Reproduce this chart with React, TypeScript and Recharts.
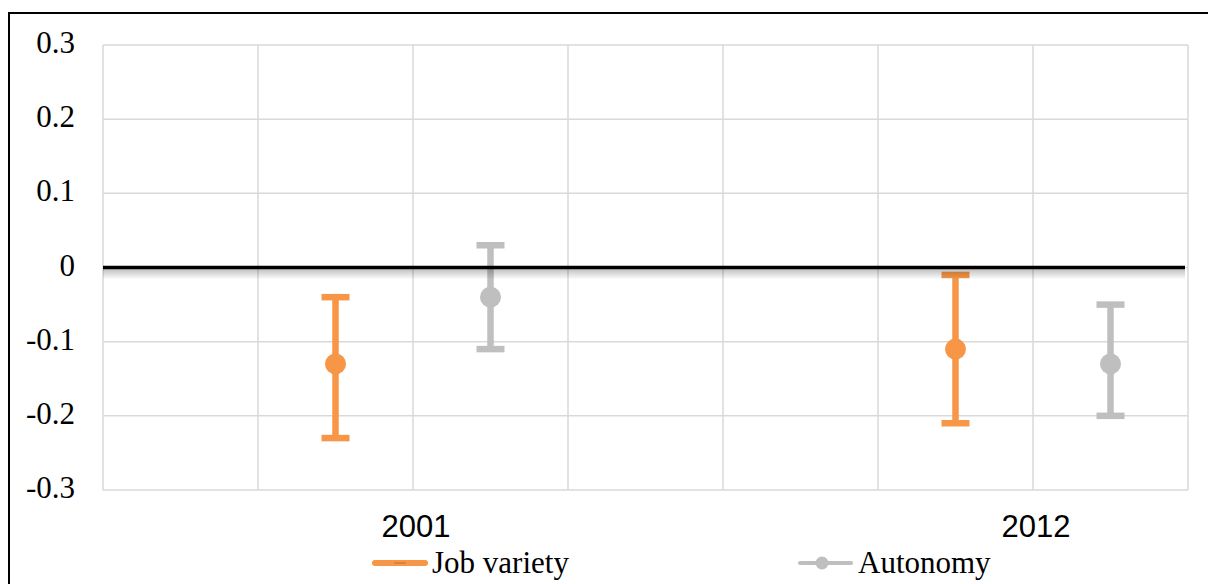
import React from 'react';
import {
  ComposedChart,
  Scatter,
  ErrorBar,
  XAxis,
  YAxis,
  CartesianGrid,
  ReferenceLine,
  Legend,
} from 'recharts';

// ---- data ----
const categories = ['2001', '2012'];
const categorySlots = [2, 6]; // slot positions of the category labels on the x scale
const gridSlots = [0, 1, 2, 3, 4, 5, 6, 7];
const jobVarietySlots = [1.5, 5.5];
const autonomySlots = [2.5, 6.5];

const jobVarietyValues = [-0.13, -0.11];
const jobVarietyLow = [-0.23, -0.21];
const jobVarietyHigh = [-0.04, -0.01];

const autonomyValues = [-0.04, -0.13];
const autonomyLow = [-0.11, -0.2];
const autonomyHigh = [0.03, -0.05];

const yTicks = [-0.3, -0.2, -0.1, 0, 0.1, 0.2, 0.3];
const seriesNames = ['Job variety', 'Autonomy'];

// ---- styles ----
const ORANGE = '#F79646';
const GRAY = '#BFBFBF';
const GRID = '#D9D9D9';
const SERIF = '"Liberation Serif", "Times New Roman", serif';
const SANS = '"Liberation Sans", Arial, sans-serif';
const FS = 31;

const build = (xs: number[], vals: number[], lo: number[], hi: number[]) =>
  vals.map((v, i) => ({ x: xs[i], y: v, err: [v - lo[i], hi[i] - v] }));

const jobData = build(jobVarietySlots, jobVarietyValues, jobVarietyLow, jobVarietyHigh);
const autoData = build(autonomySlots, autonomyValues, autonomyLow, autonomyHigh);

const fmtY = (v: number) => (Math.abs(v) < 1e-9 ? '0' : v.toFixed(1));
const fmtX = (v: number) => {
  const i = categorySlots.indexOf(v);
  return i >= 0 ? categories[i] : '';
};

const YTick = (props: any) => {
  const { x, y, payload } = props;
  return (
    <text x={x} y={y + 8} textAnchor="end" fontFamily={SERIF} fontSize={FS} fill="#000">
      {fmtY(payload.value)}
    </text>
  );
};

const XTick = (props: any) => {
  const { x, y, payload } = props;
  return (
    <text x={x + 3} y={y + 47} textAnchor="middle" fontFamily={SANS} fontSize={FS} fill="#000">
      {fmtX(payload.value)}
    </text>
  );
};

const ZeroLine = (props: any) => {
  const { x1, y1, x2 } = props;
  return (
    <g>
      <defs>
        <linearGradient id="zeroShadow" x1="0" y1="0" x2="0" y2="1">
          <stop offset="0%" stopColor="#000" stopOpacity={0.28} />
          <stop offset="100%" stopColor="#000" stopOpacity={0} />
        </linearGradient>
      </defs>
      <rect x={x1} y={y1} width={x2 - 3 - x1} height={12} fill="url(#zeroShadow)" />
      <line x1={x1} y1={y1} x2={x2 - 3} y2={y1} stroke="#000" strokeWidth={3.5} />
    </g>
  );
};

const Dot = (color: string) => (props: any) => {
  const { cx, cy } = props;
  return <circle cx={cx} cy={cy} r={10.5} fill={color} />;
};

const renderLegend = () => (
  <div style={{ position: 'relative', width: 1200, height: 30 }}>
    <div
      style={{
        position: 'absolute',
        left: 364,
        top: 0,
        height: 30,
        display: 'flex',
        alignItems: 'center',
      }}
    >
      <svg width={56} height={12} style={{ display: 'block' }}>
        <line x1={3} y1={6} x2={53} y2={6} stroke={ORANGE} strokeWidth={6} strokeLinecap="round" />
        <line x1={22} y1={6} x2={34} y2={6} stroke="#E07F3A" strokeWidth={2} />
      </svg>
      <span style={{ marginLeft: 4, fontFamily: SERIF, fontSize: FS, color: '#000', whiteSpace: 'nowrap' }}>
        {seriesNames[0]}
      </span>
    </div>
    <div
      style={{
        position: 'absolute',
        left: 790,
        top: 0,
        height: 30,
        display: 'flex',
        alignItems: 'center',
      }}
    >
      <svg width={55} height={14} style={{ display: 'block' }}>
        <line x1={2} y1={7} x2={53} y2={7} stroke={GRAY} strokeWidth={4} strokeLinecap="round" />
        <circle cx={24} cy={7} r={6.5} fill={GRAY} />
      </svg>
      <span style={{ marginLeft: 5, fontFamily: SERIF, fontSize: FS, color: '#000', whiteSpace: 'nowrap' }}>
        {seriesNames[1]}
      </span>
    </div>
  </div>
);

export default function App() {
  return (
    <div style={{ position: 'relative', width: 1200, height: 576 }}>
      <style>{'html,body{overflow:hidden;}'}</style>
      <div
        style={{
          position: 'absolute',
          left: 0,
          top: 4,
          width: 1208,
          height: 572,
          boxSizing: 'border-box',
          borderTop: '2px solid #000',
          borderLeft: '2px solid #000',
        }}
      />
      <div style={{ position: 'absolute', left: 0, top: 0 }}>
        <ComposedChart
          width={1200}
          height={576}
          margin={{ top: 37, right: 20, bottom: 14, left: 15 }}
        >
          <CartesianGrid
            stroke={GRID}
            strokeWidth={1.5}
            verticalValues={gridSlots}
            horizontalValues={yTicks}
          />
          <XAxis
            type="number"
            dataKey="x"
            domain={[0, 7]}
            ticks={categorySlots}
            interval={0}
            axisLine={false}
            tickLine={false}
            tickSize={0}
            tickMargin={0}
            height={50}
            tick={<XTick />}
          />
          <YAxis
            type="number"
            dataKey="y"
            domain={[-0.3, 0.3]}
            ticks={yTicks}
            interval={0}
            allowDataOverflow
            axisLine={false}
            tickLine={false}
            tickSize={0}
            tickMargin={28}
            width={80}
            tick={<YTick />}
          />
          <Scatter
            name={seriesNames[0]}
            data={jobData}
            fill={ORANGE}
            shape={Dot(ORANGE)}
            isAnimationActive={false}
          >
            <ErrorBar
              dataKey="err"
              direction="y"
              width={14}
              strokeWidth={6.5}
              stroke={ORANGE}
              isAnimationActive={false}
            />
          </Scatter>
          <Scatter
            name={seriesNames[1]}
            data={autoData}
            fill={GRAY}
            shape={Dot(GRAY)}
            isAnimationActive={false}
          >
            <ErrorBar
              dataKey="err"
              direction="y"
              width={14}
              strokeWidth={6.5}
              stroke={GRAY}
              isAnimationActive={false}
            />
          </Scatter>
          <ReferenceLine y={0} shape={<ZeroLine />} />
          <Legend
            verticalAlign="bottom"
            content={renderLegend}
            wrapperStyle={{ left: 0, top: 540, bottom: 'auto', width: 1200, height: 30 }}
          />
        </ComposedChart>
      </div>
    </div>
  );
}
